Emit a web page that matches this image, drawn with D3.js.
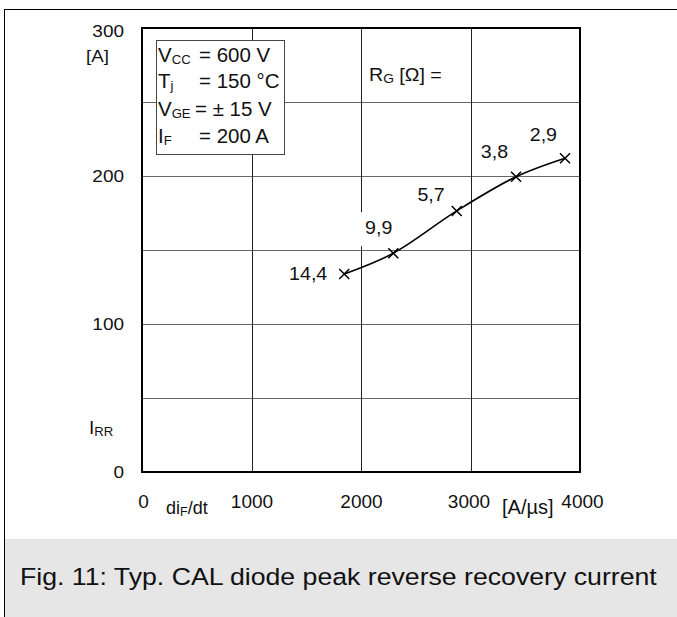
<!DOCTYPE html>
<html><head><meta charset="utf-8">
<script src="https://cdn.jsdelivr.net/npm/d3@7"></script>
<style>
html,body{margin:0;padding:0;background:#fff;}
svg{display:block;font-family:"Liberation Sans",Arial,Helvetica,sans-serif;}
</style></head>
<body>
<svg id="c" width="677" height="617"></svg>
<script>
// ---- data ----
const diFdt = [1847, 2295, 2874, 3416, 3863];        // A/µs
const irr   = [133.8, 147.8, 176.4, 199.5, 212.0];   // A
const rgLabels = ["14,4", "9,9", "5,7", "3,8", "2,9"]; // R_G [Ω]
const xTicks = [0, 1000, 2000, 3000, 4000];
const yTicks = [0, 100, 200, 300];
const yGrid = [50, 100, 150, 200, 250];
const xGrid = [1000, 2000, 3000];
const caption = "Fig. 11: Typ. CAL diode peak reverse recovery current";

// ---- layout ----
const svg = d3.select("#c");
const L = 142, R = 580, T = 28, B = 472;
const x = d3.scaleLinear().domain([0, 4000]).range([L, R]);
const y = d3.scaleLinear().domain([0, 300]).range([B, T]);

function txt(parent, px, py, size, sx, anchor) {
  return parent.append("text")
    .attr("transform", `translate(${px},${py}) scale(${sx},1)`)
    .attr("font-size", size).attr("text-anchor", anchor || "start").attr("fill", "#111");
}
function withSub(t, main, s, size, after) {
  t.append("tspan").text(main);
  t.append("tspan").attr("font-size", size).attr("dy", 2).text(s);
  if (after) t.append("tspan").attr("dy", -2).text(after);
  return t;
}

// outer frame + caption band
svg.append("rect").attr("x", 4).attr("y", 539).attr("width", 673).attr("height", 78).attr("fill", "#e6e6e6");
svg.append("line").attr("x1", 4).attr("x2", 677).attr("y1", 9.5).attr("y2", 9.5).attr("stroke", "#000").attr("stroke-width", 1);
svg.append("line").attr("x1", 4.5).attr("x2", 4.5).attr("y1", 9).attr("y2", 617).attr("stroke", "#000").attr("stroke-width", 1);
txt(svg, 20, 585, 23.5, 1.135).text(caption);

// grid
const g = svg.append("g");
g.selectAll(".hg").data(yGrid).join("line")
  .attr("x1", L).attr("x2", R).attr("y1", d => Math.round(y(d)) + 0.5).attr("y2", d => Math.round(y(d)) + 0.5)
  .attr("stroke", "#666").attr("stroke-width", 1);
g.selectAll(".vg").data(xGrid).join("line")
  .attr("y1", T).attr("y2", B).attr("x1", d => Math.round(x(d)) + 0.5).attr("x2", d => Math.round(x(d)) + 0.5)
  .attr("stroke", "#222").attr("stroke-width", 1);

// axes via d3 (tick marks hidden, labels styled)
const ySX = 1.15, yFS = 16.5;
const yAxis = d3.axisLeft(y).tickValues(yTicks).tickSize(0).tickPadding(0).tickFormat(d3.format("d"));
const ya = svg.append("g").attr("transform", `translate(${L},0)`).call(yAxis);
ya.select(".domain").remove();
ya.selectAll("text").attr("font-size", yFS).attr("font-family", "Liberation Sans, Arial, sans-serif").attr("fill", "#111")
  .attr("x", -18 / ySX).attr("transform", `scale(${ySX},1)`)
  .attr("dy", d => d === 300 ? "0.5em" : "0.36em");
const xFS = 19;
const xAxis = d3.axisBottom(x).tickValues(xTicks).tickSize(0).tickPadding(22.5).tickFormat(d3.format("d"));
const xa = svg.append("g").attr("transform", `translate(0,${B})`).call(xAxis);
xa.select(".domain").remove();
xa.selectAll("text").attr("font-size", xFS).attr("font-family", "Liberation Sans, Arial, sans-serif").attr("fill", "#111")
  .attr("dx", d => d === 4000 ? 2 : (d === 3000 ? -2 : (d === 0 ? 1 : 0)));

// plot frame
svg.append("rect").attr("x", L).attr("y", T).attr("width", R - L).attr("height", B - T)
  .attr("fill", "none").attr("stroke", "#000").attr("stroke-width", 2);

// axis unit labels
txt(svg, 86, 62, 17, 1.1).text("[A]");
withSub(txt(svg, 89, 434, 18, 1.05), "I", "RR", 12.5);
withSub(txt(svg, 166, 514, 18, 1.0), "di", "F", 12.5, "/dt");
txt(svg, 502, 514, 20, 1.0).text("[A/µs]");

// legend box
svg.append("rect").attr("x", 156.5).attr("y", 40.5).attr("width", 128).attr("height", 114)
  .attr("fill", "#fff").attr("stroke", "#444").attr("stroke-width", 1);
const legRows = [["V", "CC", "= 600 V", 199], ["T", "j", "= 150 °C", 199], ["V", "GE", "= ± 15 V", 195], ["I", "F", "= 200 A", 199]];
const legBase = [62, 88, 116, 143];
legRows.forEach((r, i) => {
  withSub(txt(svg, 158, legBase[i], 19.5, 1.05), r[0], r[1], 12.5);
  txt(svg, r[3], legBase[i], 19.5, 1.05).text(r[2]);
});
const rg = txt(svg, 369, 81, 18.5, 1.06);
rg.append("tspan").text("R");
rg.append("tspan").attr("font-size", 13).attr("dy", 2).text("G");
rg.append("tspan").attr("dy", -2).text(" [Ω] =");

// curve
const pts = diFdt.map((d, i) => [x(d), y(irr[i])]);
svg.append("path").datum(pts)
  .attr("d", d3.line().curve(d3.curveCatmullRom.alpha(0.5)))
  .attr("fill", "none").attr("stroke", "#000").attr("stroke-width", 1.6);
svg.selectAll(".mk").data(pts).join("path")
  .attr("d", p => `M${p[0]-5},${p[1]-5}L${p[0]+5},${p[1]+5}M${p[0]-5},${p[1]+5}L${p[0]+5},${p[1]-5}`)
  .attr("stroke", "#000").attr("stroke-width", 1.5).attr("fill", "none");

// point labels on white boxes (offsets are layout: right edge, baseline)
const lblOff = [[-17, 6], [-1, -19], [-12, -10], [-8, -19], [-8, -17]];
pts.forEach((p, i) => {
  const tx = p[0] + lblOff[i][0], ty = p[1] + lblOff[i][1];
  const w = rgLabels[i].length > 3 ? 40 : 31;
  svg.append("rect").attr("x", tx - w - 1).attr("y", ty - 22).attr("width", w + 4).attr("height", 34).attr("fill", "#fff");
  txt(svg, tx, ty, 18.5, 1.06, "end").text(rgLabels[i]);
});
</script>
</body></html>
